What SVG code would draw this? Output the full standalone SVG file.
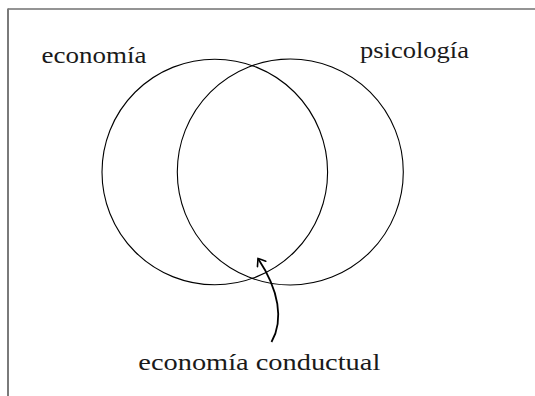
<svg xmlns="http://www.w3.org/2000/svg" width="535" height="396" viewBox="0 0 535 396">
<style>
text{font-family:'Liberation Serif','Times New Roman',Times,serif;font-size:24px;fill:#1a1a1a}
.set{fill:none;stroke:#000;stroke-width:1.1}
.frame-top{stroke:#2a2a2a;stroke-width:1.2}
.frame-left{stroke:#7a7a7a;stroke-width:2}
.conn{fill:none;stroke:#000;stroke-width:1.8}
</style>
<defs>
<marker id="to" markerUnits="userSpaceOnUse" markerWidth="14" markerHeight="14" refX="0" refY="0" viewBox="-8 -7 10 14" orient="auto">
<path d="M-6.5,-5 Q-2,-1.5 0,0 Q-2,1.5 -6.5,5" fill="none" stroke="#000" stroke-width="1.6" stroke-linecap="round"/>
</marker>
</defs>
<rect width="535" height="396" fill="#fff"/>
<line class="frame-top" x1="8" y1="9" x2="535" y2="9"/>
<line class="frame-left" x1="8" y1="8.5" x2="8" y2="396"/>
<g id="economia">
<circle class="set" cx="214.8" cy="172" r="112.8"/>
<text font-family="Liberation Serif, serif" x="41.5" y="63.3" textLength="105" lengthAdjust="spacingAndGlyphs">economía</text>
</g>
<g id="psicologia">
<circle class="set" cx="290.3" cy="172" r="113"/>
<text font-family="Liberation Serif, serif" x="360" y="57.5" textLength="109" lengthAdjust="spacingAndGlyphs">psicología</text>
</g>
<g id="economia-conductual">
<text font-family="Liberation Serif, serif" x="138.3" y="370" textLength="242" lengthAdjust="spacingAndGlyphs">economía conductual</text>
</g>
<g id="connectors">
<path class="conn" d="M271.5,342 C284,320 279,290 258,258.5" marker-end="url(#to)"/>
</g>
</svg>
